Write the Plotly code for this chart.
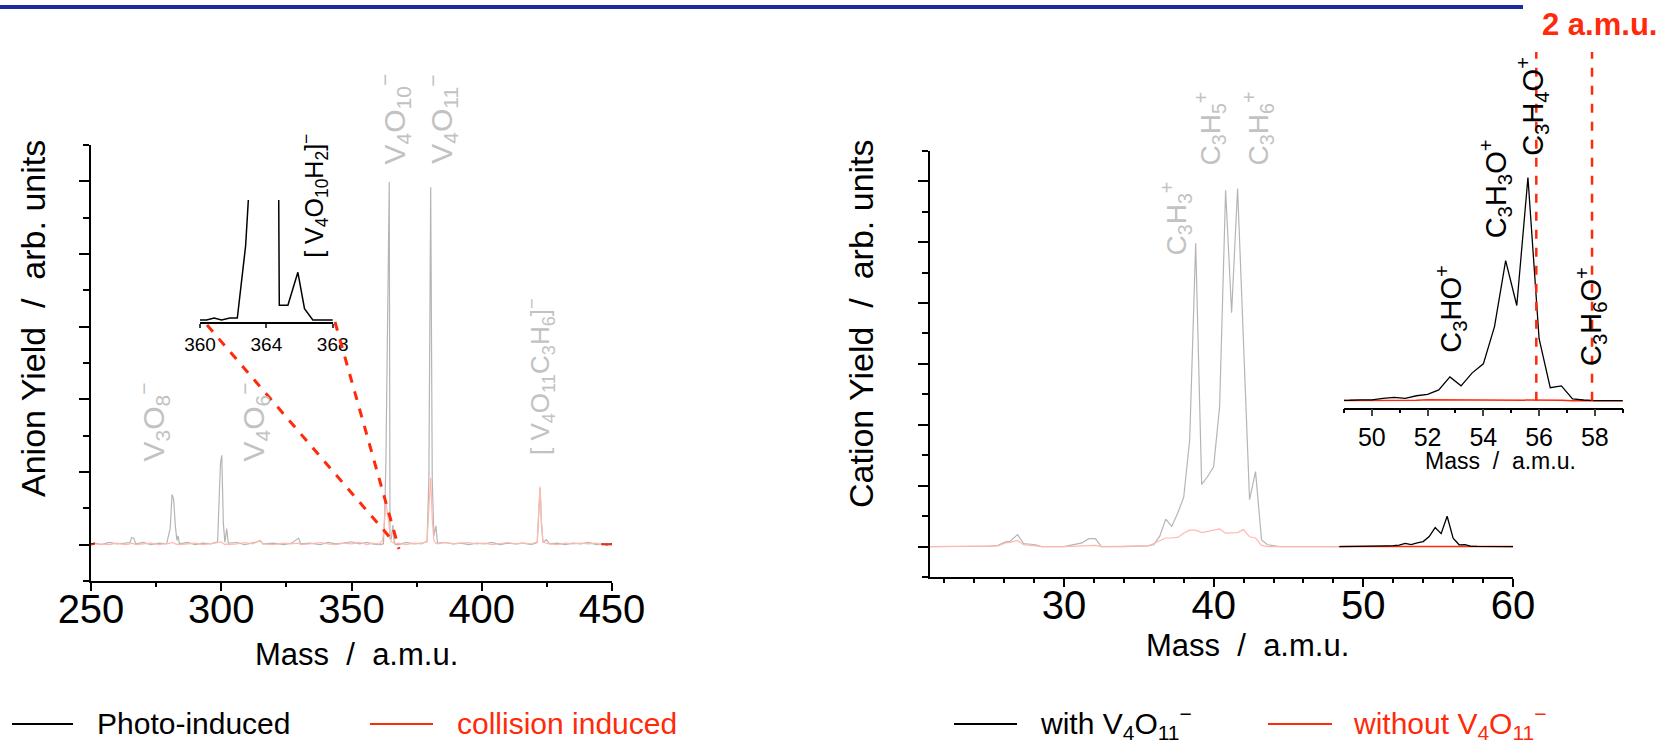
import plotly.graph_objects as go

W, H = 1659, 741
FONT = "Liberation Sans, Arial, sans-serif"

# ---------------- anion spectrum (left panel) ----------------
anion_mass = [250.0, 251.5, 254, 257, 260, 263, 265.0, 265.6, 266.4, 267.2, 270, 273, 276, 279,
              280.4, 281.1, 281.7, 282.4, 283.0, 283.4, 284.0, 287, 290, 293, 296, 298.6, 299.2,
              299.7, 300.2, 300.8, 301.4, 302.1, 302.7, 306, 309, 312, 315, 316, 320, 324, 327,
              329.7, 330.5, 334, 338, 341, 344, 347, 350, 353, 356, 358, 360.0, 360.4, 360.85,
              361.3, 361.8, 362.25, 362.75, 363.2, 364.5, 364.78, 365.3, 365.9, 366.3, 366.8,
              368.0, 371, 374, 377, 379.0, 379.7, 380.4, 381.0, 381.6, 382.4, 383.0, 386, 389,
              392, 395, 398, 401, 404, 407, 410, 413, 416, 419, 421.3, 421.9, 422.4, 422.9,
              423.5, 424.8, 426, 429, 432, 435, 438, 441, 444, 446, 448, 450]
photo_yield = [0.01, 0.02, 0.0, 0.03, 0.01, 0.02, 0.03, 0.10, 0.09, 0.01, 0.03, 0.0, 0.02, 0.01,
               0.22, 0.69, 0.63, 0.25, 0.06, 0.12, 0.01, 0.03, 0.0, 0.02, 0.01, 0.04, 0.75,
               1.12, 1.23, 0.30, 0.03, 0.22, 0.02, 0.03, 0.0, 0.02, 0.05, 0.01, 0.02, 0.0, 0.02,
               0.09, 0.01, 0.02, 0.0, 0.03, 0.01, 0.02, 0.04, 0.01, 0.03, 0.01, 0.0, 0.0, 0.011,
               0.0, 0.011, 0.011, 0.42, 1.13, 4.99, 0.083, 0.083, 0.27, 0.064, 0.0,
               0.0, 0.03, 0.01, 0.02, 0.04, 0.90, 4.92, 0.90, 0.12, 0.26, 0.02, 0.03, 0.01,
               0.02, 0.0, 0.02, 0.01, 0.03, 0.0, 0.02, 0.01, 0.02, 0.0, 0.03, 0.45, 0.78, 0.30,
               0.03, 0.07, 0.01, 0.02, 0.0, 0.02, 0.01, 0.03, 0.0, 0.01, 0.0, 0.01]
collision_yield = [0.0, 0.01, 0.01, 0.0, 0.02, 0.0, 0.01, 0.02, 0.01, 0.0, 0.01, 0.02, 0.0, 0.01,
                   0.02, 0.03, 0.02, 0.01, 0.0, 0.01, 0.0, 0.01, 0.02, 0.0, 0.01, 0.02, 0.03,
                   0.04, 0.03, 0.02, 0.0, 0.01, 0.0, 0.01, 0.03, 0.01, 0.06, 0.01, 0.0, 0.02, 0.01,
                   0.02, 0.0, 0.01, 0.03, 0.01, 0.0, 0.02, 0.01, 0.03, 0.0, 0.02, 0.01, 0.01, 0.02,
                   0.03, 0.05, 0.15, 0.35, 0.59, 0.25, 0.10, 0.04, 0.03, 0.02, 0.01,
                   0.02, 0.0, 0.02, 0.01, 0.05, 0.45, 0.92, 0.35, 0.06, 0.02, 0.01, 0.03, 0.01,
                   0.02, 0.03, 0.01, 0.02, 0.0, 0.02, 0.03, 0.01, 0.02, 0.01, 0.04, 0.48, 0.80, 0.32,
                   0.04, 0.02, 0.01, 0.0, 0.02, 0.01, 0.02, 0.01, 0.02, 0.0, 0.01, 0.0]

# ---------------- cation spectrum (right panel) ----------------
cation_mass = [21.0, 23.0, 25.0, 25.6, 26.1, 26.4, 26.9, 27.3, 28.1, 28.5, 30.0, 31.2, 31.65, 32.1,
               32.5, 34.0, 35.6, 36.0, 36.4, 36.8, 37.2, 37.6, 38.0, 38.4, 38.8, 39.2, 39.6, 40.0,
               40.4, 40.8, 41.2, 41.6, 42.0, 42.4, 42.8, 43.2, 43.6, 44.4, 46.0, 48.4, 48.8, 49.2,
               49.6, 50.0, 50.4, 50.8, 51.2, 51.6, 52.0, 52.4, 52.8, 53.2, 53.6, 54.0, 54.4, 54.8,
               55.2, 55.6, 56.0, 56.4, 56.8, 57.2, 57.6, 58.0, 59.0, 60.0]
with_yield = [0.0, 0.0, 0.005, 0.02, 0.077, 0.087, 0.197, 0.05, 0.03, 0.0, 0.0, 0.06, 0.13, 0.13,
              0.0, 0.0, 0.01, 0.03, 0.17, 0.45, 0.33, 0.55, 0.81, 1.75, 4.98, 1.02, 1.15, 1.31,
              2.30, 5.85, 3.84, 5.88, 3.17, 0.77, 1.23, 0.11, 0.03, 0.0, 0.0, 0.0, 0.0, 0.001,
              0.002, 0.002, 0.005, 0.0075, 0.005, 0.011, 0.014, 0.024, 0.053, 0.033, 0.062, 0.082,
              0.165, 0.312, 0.212, 0.497, 0.138, 0.029, 0.033, 0.004, 0.0015, 0.0, 0.0, 0.0]
without_yield = [0.0, 0.0, 0.005, 0.01, 0.06, 0.07, 0.10, 0.03, 0.01, 0.0, 0.0, 0.01, 0.02, 0.02,
                 0.0, 0.0, 0.01, 0.05, 0.10, 0.14, 0.14, 0.15, 0.22, 0.27, 0.27, 0.23, 0.25, 0.27,
                 0.29, 0.22, 0.22, 0.23, 0.28, 0.16, 0.14, 0.02, 0.0, 0.0, 0.0, 0.0, 0.0, 0.0,
                 0.0, 0.0, 0.001, 0.001, 0.001, 0.001, 0.002, 0.002, 0.002, 0.002, 0.002, 0.002,
                 0.002, 0.002, 0.002, 0.002, 0.002, 0.001, 0.001, 0.0, 0.0, 0.0, 0.0, 0.0]

GRAY = "#b5b5b5"
PINK = "#ffb9ad"
RED = "#ff2a0a"
LABEL_GRAY = "#c2c2c2"


def px(x):
    return x / W


def py(y):
    return 1 - y / H


def masked(xs, ys, keep):
    return [y if keep(x) else None for x, y in zip(xs, ys)]


fig = go.Figure()

# left panel: faded middle part, full colour at the ends
mid_l = lambda m: 251.5 <= m <= 446
end_l = lambda m: m <= 251.5 or m >= 446
fig.add_trace(go.Scatter(x=anion_mass, y=masked(anion_mass, photo_yield, mid_l), mode="lines",
                         line=dict(color=GRAY, width=1.2), xaxis="x", yaxis="y"))
fig.add_trace(go.Scatter(x=anion_mass, y=masked(anion_mass, collision_yield, mid_l), mode="lines",
                         line=dict(color=PINK, width=1.2), xaxis="x", yaxis="y"))
fig.add_trace(go.Scatter(x=anion_mass, y=masked(anion_mass, photo_yield, end_l), mode="lines",
                         line=dict(color="black", width=1.5), xaxis="x", yaxis="y"))
fig.add_trace(go.Scatter(x=anion_mass, y=masked(anion_mass, collision_yield, end_l), mode="lines",
                         line=dict(color=RED, width=1.8), xaxis="x", yaxis="y"))
# left inset: photo-induced trace around 364 a.m.u.
fig.add_trace(go.Scatter(x=anion_mass, y=photo_yield, mode="lines",
                         line=dict(color="black", width=1.5), xaxis="x2", yaxis="y2"))

# right panel: faded below 48.4 a.m.u., full colour above
mid_r = lambda m: m <= 48.4
end_r = lambda m: m >= 48.4
fig.add_trace(go.Scatter(x=cation_mass, y=masked(cation_mass, with_yield, mid_r), mode="lines",
                         line=dict(color=GRAY, width=1.2), xaxis="x3", yaxis="y3"))
fig.add_trace(go.Scatter(x=cation_mass, y=masked(cation_mass, without_yield, mid_r), mode="lines",
                         line=dict(color=PINK, width=1.2), xaxis="x3", yaxis="y3"))
fig.add_trace(go.Scatter(x=cation_mass, y=masked(cation_mass, without_yield, end_r), mode="lines",
                         line=dict(color=RED, width=1.5), xaxis="x3", yaxis="y3"))
fig.add_trace(go.Scatter(x=cation_mass, y=masked(cation_mass, with_yield, end_r), mode="lines",
                         line=dict(color="black", width=1.3), xaxis="x3", yaxis="y3"))
# right inset
fig.add_trace(go.Scatter(x=cation_mass, y=without_yield, mode="lines",
                         line=dict(color=RED, width=1.5), xaxis="x4", yaxis="y4"))
fig.add_trace(go.Scatter(x=cation_mass, y=with_yield, mode="lines",
                         line=dict(color="black", width=1.3), xaxis="x4", yaxis="y4"))


def main_x(domain, rng, dtick, minor, anchor):
    return dict(domain=domain, range=rng, anchor=anchor, automargin=False, showline=True,
                linecolor="black", linewidth=2, ticks="outside", ticklen=8, tickwidth=2,
                tickcolor="black", tickmode="linear", tick0=0, dtick=dtick, showgrid=False,
                zeroline=False, ticklabelstandoff=-16,
                tickfont=dict(family=FONT, size=40, color="black"),
                minor=dict(dtick=minor, ticks="outside", ticklen=4, tickwidth=2,
                           tickcolor="black", showgrid=False))


def main_y(domain, rng, anchor):
    return dict(domain=domain, range=rng, anchor=anchor, automargin=False, showline=True,
                linecolor="black", linewidth=2, ticks="outside", ticklen=10, tickwidth=2,
                tickcolor="black", tickmode="linear", tick0=0, dtick=1, showticklabels=False,
                showgrid=False, zeroline=False,
                minor=dict(dtick=0.5, ticks="outside", ticklen=6, tickwidth=2,
                           tickcolor="black", showgrid=False))


fig.update_layout(
    width=W, height=H, autosize=False, showlegend=False,
    margin=dict(l=0, r=0, t=0, b=0, pad=0, autoexpand=False),
    paper_bgcolor="white", plot_bgcolor="rgba(0,0,0,0)",
    font=dict(family=FONT, color="black"),
    xaxis=main_x([px(91), px(612)], [250, 450], 50, 25, "y"),
    yaxis=main_y([py(581), py(145)], [-0.5, 5.5], "x"),
    xaxis3=main_x([px(930), px(1513)], [21.05, 60], 10, 2, "y3"),
    yaxis3=main_y([py(577), py(150.7)], [-0.5, 6.5], "x3"),
    xaxis2=dict(domain=[px(200), px(332.7)], range=[360, 368], anchor="y2", automargin=False,
                showline=True, linecolor="black", linewidth=1.5, ticks="outside", ticklen=4,
                tickwidth=1.5, tickvals=[360, 364, 368], showgrid=False, zeroline=False,
                tickfont=dict(family=FONT, size=19, color="black")),
    yaxis2=dict(domain=[py(322), py(200)], range=[-0.0113, 0.679], anchor="x2", visible=False,
                automargin=False),
    xaxis4=dict(domain=[px(1344), px(1622.7)], range=[49, 59], anchor="y4", automargin=False,
                showline=True, linecolor="black", linewidth=1.5, ticks="outside", ticklen=7,
                tickwidth=1.5, tickmode="linear", tick0=0, dtick=2, showgrid=False,
                zeroline=False, tickfont=dict(family=FONT, size=25, color="black"),
                minor=dict(dtick=1, ticks="outside", ticklen=4, tickwidth=1.5,
                           tickcolor="black", showgrid=False)),
    yaxis4=dict(domain=[py(407.7), py(52)], range=[-0.0156, 0.7766], anchor="x4", visible=False,
                automargin=False),
)

ann = []


def label(text, x, y, xref, yref, size, color, angle=-90, yanchor="bottom", xanchor="center", bold=False):
    ann.append(dict(text=f"<b>{text}</b>" if bold else text, x=x, y=y, xref=xref, yref=yref,
                    showarrow=False, textangle=angle, xanchor=xanchor, yanchor=yanchor,
                    font=dict(family=FONT, size=size, color=color)))


# peak assignments, anion spectrum
label("V<sub>3</sub>O<sub>8</sub><sup>−</sup>", 273.8, 1.11, "x", "y", 30, LABEL_GRAY)
label("V<sub>4</sub>O<sub>6</sub><sup>−</sup>", 312.2, 1.11, "x", "y", 30, LABEL_GRAY)
label("V<sub>4</sub>O<sub>10</sub><sup>−</sup>", 366.3, 5.21, "x", "y", 30, LABEL_GRAY)
label("V<sub>4</sub>O<sub>11</sub><sup>−</sup>", 384.4, 5.21, "x", "y", 30, LABEL_GRAY)
label("[ V<sub>4</sub>O<sub>11</sub>C<sub>3</sub>H<sub>6</sub>]<sup>−</sup>", 422.4, 1.20, "x", "y", 26, LABEL_GRAY)
label("[ V<sub>4</sub>O<sub>10</sub>H<sub>2</sub>]<sup>−</sup>", 366.87, 0.34, "x2", "y2", 25, "black")

# peak assignments, cation spectrum
label("C<sub>3</sub>H<sub>3</sub><sup>+</sup>", 37.5, 4.75, "x3", "y3", 28, LABEL_GRAY)
label("C<sub>3</sub>H<sub>5</sub><sup>+</sup>", 39.78, 6.23, "x3", "y3", 28, LABEL_GRAY)
label("C<sub>3</sub>H<sub>6</sub><sup>+</sup>", 42.98, 6.23, "x3", "y3", 28, LABEL_GRAY)
label("C<sub>3</sub>HO<sup>+</sup>", 52.83, 0.102, "x4", "y4", 29, "black")
label("C<sub>3</sub>H<sub>3</sub>O<sup>+</sup>", 54.45, 0.358, "x4", "y4", 29, "black")
label("C<sub>3</sub>H<sub>4</sub>O<sup>+</sup>", 55.75, 0.54, "x4", "y4", 29, "black")
label("C<sub>3</sub>H<sub>6</sub>O<sup>+</sup>", 57.88, 0.073, "x4", "y4", 29, "black")

# axis titles
NB = "\u00a0"
mass_title = f"Mass{NB}{NB}/{NB}{NB}a.m.u."
label(mass_title, px(356), py(654), "paper", "paper", 31, "black", angle=0, yanchor="middle")
label(mass_title, px(1247), py(645), "paper", "paper", 31, "black", angle=0, yanchor="middle")
label(mass_title, px(1500), py(461), "paper", "paper", 23, "black", angle=0, yanchor="middle")
label(f"Anion Yield{NB}{NB}/{NB}{NB}arb. units", px(33), py(319), "paper", "paper", 34, "black",
      yanchor="middle")
label(f"Cation Yield{NB}{NB}/{NB}{NB}arb. units", px(861), py(324), "paper", "paper", 34, "black",
      yanchor="middle")

label("2 a.m.u.", px(1540), py(25), "paper", "paper", 31, RED, angle=0, yanchor="middle",
      xanchor="left", bold=True)

# legends
label("Photo-induced", px(95), py(723), "paper", "paper", 30, "black", angle=0,
      yanchor="middle", xanchor="left")
label("collision induced", px(455), py(723), "paper", "paper", 30, RED, angle=0,
      yanchor="middle", xanchor="left")
label("with V<sub>4</sub>O<sub>11</sub><sup>−</sup>", px(1038), py(723), "paper", "paper", 30,
      "black", angle=0, yanchor="middle", xanchor="left")
label("without V<sub>4</sub>O<sub>11</sub><sup>−</sup>", px(1351), py(723), "paper", "paper", 30,
      RED, angle=0, yanchor="middle", xanchor="left")

shapes = []
# header rule
shapes.append(dict(type="line", xref="paper", yref="paper", x0=0, x1=px(1523), y0=py(7), y1=py(7),
                   line=dict(color="#1b2c9e", width=4)))
# legend keys
for x0, x1, c in [(12, 73, "black"), (370, 433, RED), (954, 1017, "black"), (1268, 1332, RED)]:
    shapes.append(dict(type="line", xref="paper", yref="paper", x0=px(x0), x1=px(x1),
                       y0=py(724), y1=py(724), line=dict(color=c, width=2)))
# zoom connectors from the inset to the peak
for (xa, ya), (xb, yb) in [((207, 325), (393, 541)), ((335, 322), (399, 549))]:
    shapes.append(dict(type="line", xref="paper", yref="paper", x0=px(xa), y0=py(ya),
                       x1=px(xb), y1=py(yb), line=dict(color=RED, width=3, dash="dash")))
# 2 a.m.u. markers in the cation inset
for m in (55.9, 57.9):
    shapes.append(dict(type="line", xref="x4", yref="y4", x0=m, x1=m, y0=0, y1=0.7766,
                       line=dict(color=RED, width=2.5, dash="dash")))

fig.update_layout(annotations=ann, shapes=shapes)
fig.write_html("out.html")
